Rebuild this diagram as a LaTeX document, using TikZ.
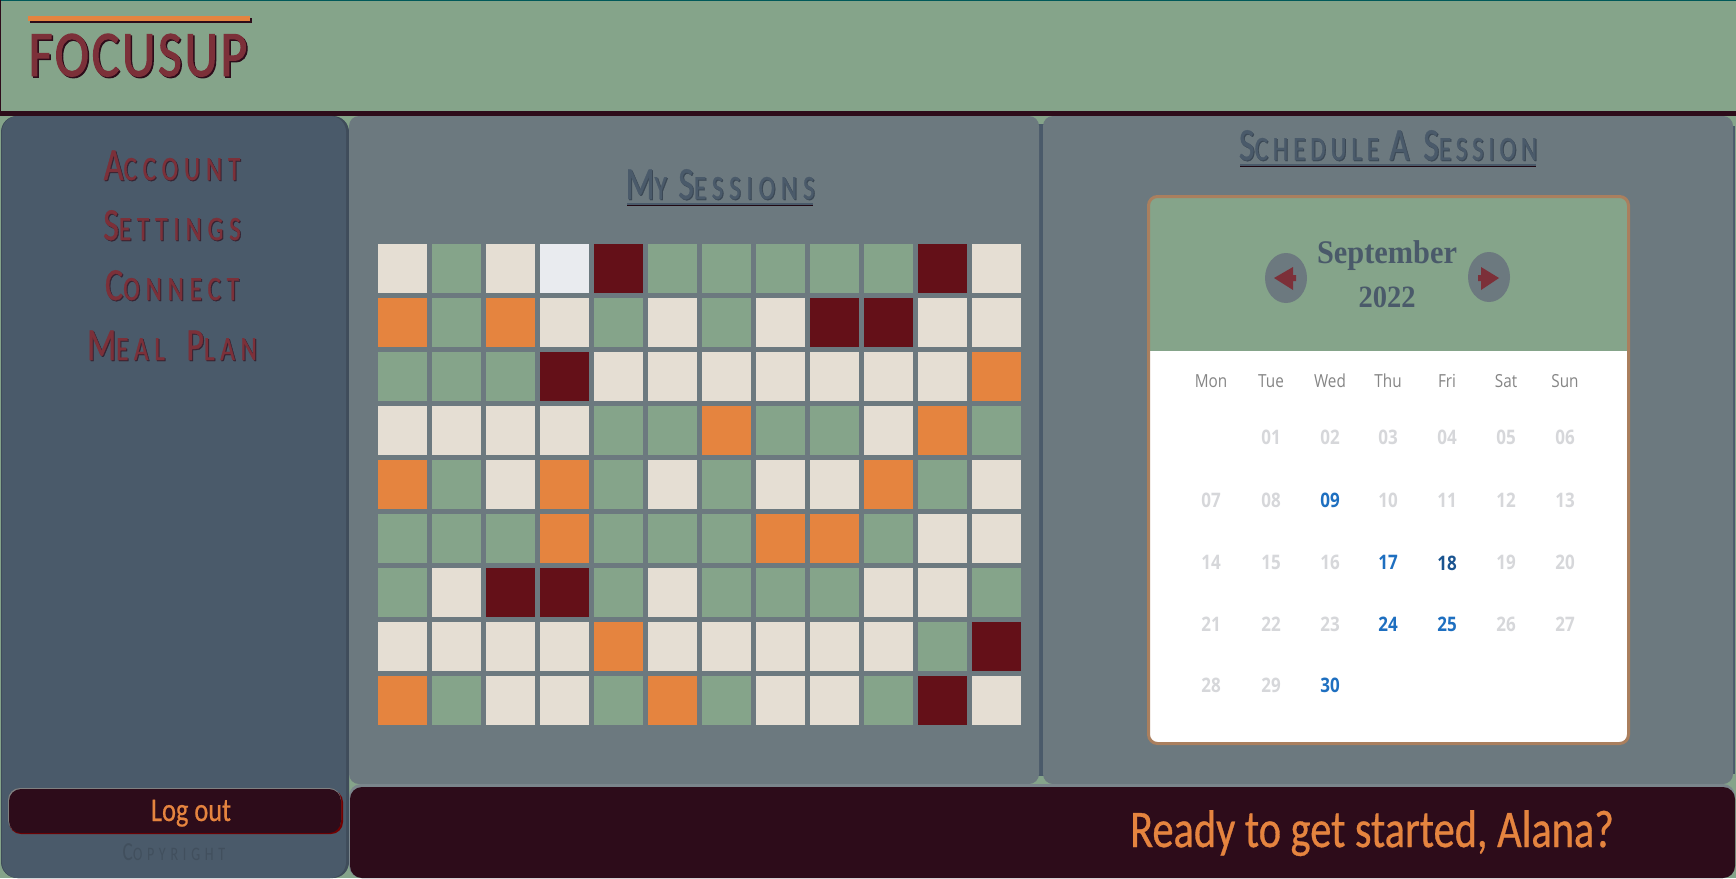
\documentclass[tikz,border=0pt]{standalone}
\usepackage{fontspec}
\usetikzlibrary{shapes.geometric}
\setmainfont{Carlito}
\newfontfamily\logofont[FakeStretch=0.8,FakeBold=1.5,LetterSpace=4]{Carlito}
\newfontfamily\navfont[FakeStretch=0.74,FakeBold=0.8,LetterSpace=17]{Carlito}
\newfontfamily\bookfont[FakeStretch=0.74,FakeBold=0.8,LetterSpace=14]{Carlito}
\newfontfamily\wideltrfont[FakeStretch=0.74,LetterSpace=25]{Carlito}
\newfontfamily\readyfont[FakeStretch=0.8,FakeBold=0.6]{Carlito}
\newfontfamily\monthfont[FakeStretch=0.92]{Liberation Serif}
\newfontfamily\dayfont[FakeStretch=0.85]{Open Sans}
\definecolor{mygreen}{HTML}{85A48A}
\definecolor{myplum}{HTML}{2D0C1A}
\definecolor{myslate}{HTML}{4A5A6A}
\definecolor{mygrey}{HTML}{6C797F}
\definecolor{mywine}{HTML}{7C3039}
\definecolor{myorange}{HTML}{E5843F}
\definecolor{mytan}{HTML}{AA7F5E}
\definecolor{tilec}{HTML}{E5DED3}
\definecolor{tileg}{HTML}{85A48A}
\definecolor{tilew}{HTML}{E9EBEF}
\definecolor{tiler}{HTML}{641018}
\definecolor{tileo}{HTML}{E5843F}
\definecolor{dayfaint}{HTML}{D6D7DA}
\definecolor{dayblue}{HTML}{1E6FC0}
\definecolor{daydark}{HTML}{1A5490}
\newcommand{\navbig}{\fontsize{46}{46}\selectfont}
\newcommand{\navsmall}{\fontsize{34}{34}\selectfont}
\begin{document}
\begin{tikzpicture}[x=1pt,y=-1pt,
  flat/.style={inner sep=0pt,outer sep=0pt,anchor=base},
  navlabel/.style={flat,font=\navfont,text=mywine},
  headlabel/.style={flat,font=\navfont,text=myslate},
  daylabel/.style={flat,font={\dayfont\fontsize{18}{18}\selectfont},text=black!48},
  datelabel/.style={flat,font={\dayfont\bfseries\fontsize{20}{20}\selectfont},text=dayfaint}]
  \useasboundingbox (0,0) rectangle (1736,878);
  \fill[mygreen] (0,0) rectangle (1736,878);
  \fill[teal!70!black] (0,0) rectangle (1736,1);
  \fill[myplum] (0,111) rectangle (1736,116);
  \fill[myplum] (0,0) rectangle (1,116);
  % panels
  \fill[myslate!85!black,rounded corners=16pt] (1,116) rectangle (349,878);
  \fill[myslate,rounded corners=16pt] (2,116) rectangle (346,878);
  \fill[myslate] (1037,124) rectangle (1044,776);
  \fill[myslate] (1731,126) rectangle (1735,774);
  \fill[mygrey,rounded corners=10pt] (349,116) rectangle (1039,784);
  \fill[mygrey,rounded corners=10pt] (1043,116) rectangle (1733,784);
  \fill[mygrey!90!white,rounded corners=12pt] (349,784) rectangle (1735,878);
  \fill[myplum,rounded corners=12pt] (350,787) rectangle (1735,878);
  % logo
  \fill[myplum] (30,18) rectangle (252,23);
  \fill[myorange] (28,16) rectangle (250,21);
  \node[flat,font={\logofont\fontsize{65}{65}\selectfont},text=myplum] (logo-shade) at (139.5,77.5) {FOCUSUP};
  \node[flat,font={\logofont\fontsize{65}{65}\selectfont},text=mywine] (logo) at (138,76) {FOCUSUP};
  % side menu
  \foreach \nm/\ypos/\txt in {account/180/{\navbig A\navsmall CCOUNT},
      settings/240/{\navbig S\navsmall ETTINGS},
      connect/300/{\navbig C\navsmall ONNECT},
      meal/360/{\navbig M\navsmall EAL\hspace{10pt} \navbig P\navsmall LAN}} {
    \node[navlabel,text=myplum!70!myslate] (\nm-shade) at (173,\ypos+1) {\txt};
    \node[navlabel] (\nm) at (172,\ypos) {\txt};
  }
  % log out
  \fill[red!45!black,rounded corners=12pt] (9,790) rectangle (343,834);
  \fill[gray,rounded corners=12pt] (8,788) rectangle (341,832);
  \fill[myplum,rounded corners=12pt] (9,789) rectangle (341,833);
  \node[flat,font={\readyfont\fontsize{33}{33}\selectfont},text=myorange] (logout) at (191,821) {Log out};
  \node[flat,font=\wideltrfont,text=myslate!88!black] (copyright) at (174,860)
    {\fontsize{26}{26}\selectfont C\fontsize{19}{19}\selectfont OPYRIGHT};
  \node[flat,font={\readyfont\fontsize{53}{53}\selectfont},text=myorange] (ready) at (1372,847) {Ready to get started, Alana?};
  % session headings
  \foreach \nm/\xpos/\ypos/\halfw/\txt in {mine/720/199/93/{\navbig M\navsmall Y \navbig S\navsmall ESSIONS},
      book/1388/160/148/{\bookfont\navbig S\navsmall CHEDULE \navbig A \navbig S\navsmall ESSION}} {
    \node[headlabel,text=myslate!80!black] (\nm-shade) at (\xpos+1,\ypos+1) {\txt};
    \node[headlabel] (\nm) at (\xpos,\ypos) {\txt};
    \fill[myplum!70!black] (\xpos-\halfw,\ypos+4) rectangle (\xpos+\halfw,\ypos+7);
    \fill[myslate] (\xpos-\halfw,\ypos+4) rectangle (\xpos+\halfw,\ypos+6);
  }
  % tiles
  \foreach \tiles [count=\r from 0] in {{c,g,c,w,r,g,g,g,g,g,r,c},{o,g,o,c,g,c,g,c,r,r,c,c},
      {g,g,g,r,c,c,c,c,c,c,c,o},{c,c,c,c,g,g,o,g,g,c,o,g},{o,g,c,o,g,c,g,c,c,o,g,c},
      {g,g,g,o,g,g,g,o,o,g,c,c},{g,c,r,r,g,c,g,g,g,c,c,g},{c,c,c,c,o,c,c,c,c,c,g,r},
      {o,g,c,c,g,o,g,c,c,g,r,c}}
    \foreach \k [count=\c from 0] in \tiles
      \fill[tile\k] (378+54*\c,244+54*\r) rectangle (427+54*\c,293+54*\r);
  % calendar card
  \fill[white,rounded corners=9pt] (1148,196) rectangle (1629,743);
  \fill[mygreen,rounded corners=9pt] (1148,196) rectangle (1629,300);
  \fill[mygreen] (1148,280) rectangle (1629,351);
  \draw[mytan,line width=3pt,rounded corners=9pt] (1148.5,196.5) rectangle (1628.5,743.5);
  \node[flat,font={\monthfont\bfseries\fontsize{33}{33}\selectfont},text=myslate] (month) at (1387,263) {September};
  \node[flat,font={\monthfont\bfseries\fontsize{31}{31}\selectfont},text=myslate] (year) at (1387,307) {2022};
  \node[ellipse,fill=mygrey,minimum width=42pt,minimum height=50pt,inner sep=0pt] (prev) at (1286,278) {};
  \node[ellipse,fill=mygrey,minimum width=42pt,minimum height=50pt,inner sep=0pt] (next) at (1489,277) {};
  \fill[mywine] (1274,278) -- (1293,267) -- (1293,275) -- (1296,275) -- (1296,281) -- (1293,281) -- (1293,290) -- cycle;
  \fill[mywine] (1499,278) -- (1481,267) -- (1481,275) -- (1478,275) -- (1478,281) -- (1481,281) -- (1481,290) -- cycle;
  % dates
  \foreach \nm/\xpos in {Mon/1211,Tue/1271,Wed/1330,Thu/1388,Fri/1447,Sat/1506,Sun/1565}
    \node[daylabel] (\nm) at (\xpos,387) {\nm};
  \foreach \d/\xpos/\ypos in {01/1271/444,02/1330/444,03/1388/444,04/1447/444,05/1506/444,06/1565/444,
      07/1211/507,08/1271/507,10/1388/507,11/1447/507,12/1506/507,13/1565/507,
      14/1211/569,15/1271/569,16/1330/569,19/1506/569,20/1565/569,
      21/1211/631,22/1271/631,23/1330/631,26/1506/631,27/1565/631,
      28/1211/692,29/1271/692}
    \node[datelabel] (d\d) at (\xpos,\ypos) {\d};
  \foreach \d/\xpos/\ypos in {09/1330/507,17/1388/569,24/1388/631,25/1447/631,30/1330/692}
    \node[datelabel,text=dayblue] (d\d) at (\xpos,\ypos) {\d};
  \node[datelabel,text=daydark] (d18) at (1447,570) {18};
\end{tikzpicture}
\end{document}
